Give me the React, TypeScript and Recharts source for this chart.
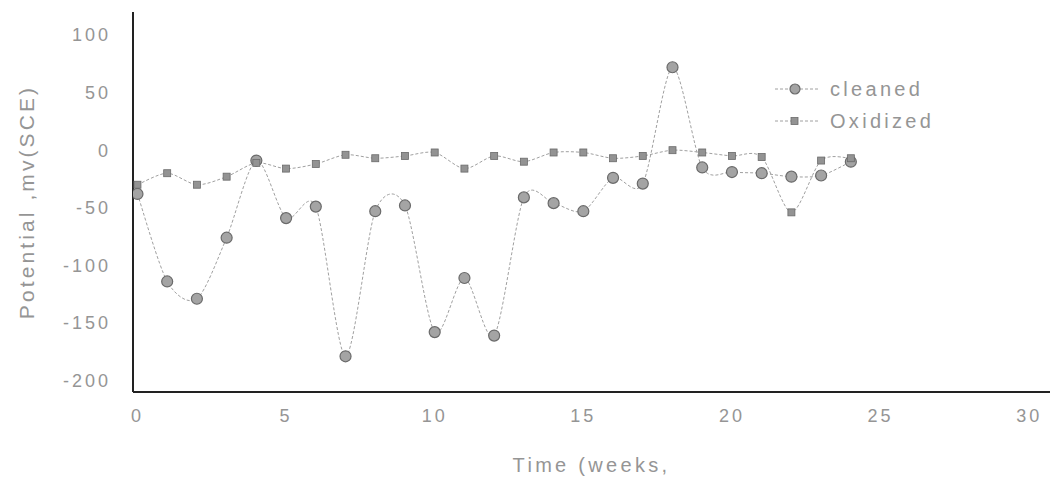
import React from 'react';
import { LineChart, Line, XAxis, YAxis, Legend } from 'recharts';

const weeks = [0, 1, 2, 3, 4, 5, 6, 7, 8, 9, 10, 11, 12, 13, 14, 15, 16, 17, 18, 19, 20, 21, 22, 23, 24];
const cleaned = [-38, -114, -129, -76, -9, -59, -49, -179, -53, -48, -158, -111, -161, -41, -46, -53, -24, -29, 72, -15, -19, -20, -23, -22, -10];
const oxidized = [-30, -20, -30, -23, -11, -16, -12, -4, -7, -5, -2, -16, -5, -10, -2, -2, -7, -5, 0, -2, -5, -6, -54, -9, -7];
const xTicks = [0, 5, 10, 15, 20, 25, 30];
const yTicks = [-200, -150, -100, -50, 0, 50, 100];
const seriesNames = ['cleaned', 'Oxidized'];

const data = weeks.map((w, i) => ({ week: w, cleaned: cleaned[i], oxidized: oxidized[i] }));

const FONT = '"Liberation Sans", Arial, sans-serif';
const TXT = '#959595';
const LINE = '#a0a0a0';

function catmullRom(context: any) {
  let pts: number[][] = [];
  return {
    areaStart() {},
    areaEnd() {},
    lineStart() { pts = []; },
    lineEnd() {
      const n = pts.length;
      if (n === 0) return;
      context.moveTo(pts[0][0], pts[0][1]);
      const t = 0.14;
      for (let i = 0; i < n - 1; i++) {
        const p0 = pts[i - 1] || pts[i];
        const p1 = pts[i];
        const p2 = pts[i + 1];
        const p3 = pts[i + 2] || p2;
        context.bezierCurveTo(
          p1[0] + (p2[0] - p0[0]) * t, p1[1] + (p2[1] - p0[1]) * t,
          p2[0] - (p3[0] - p1[0]) * t, p2[1] - (p3[1] - p1[1]) * t,
          p2[0], p2[1]
        );
      }
    },
    point(x: number, y: number) { pts.push([+x, +y]); },
  };
}

const CircleDot = (props: any) => {
  const { cx, cy, index } = props;
  if (cx == null || cy == null) return <g key={`c${index}`} />;
  return <circle key={`c${index}`} cx={cx} cy={cy} r={5.5} fill="#a4a4a4" stroke="#6a6a6a" strokeWidth={1.2} />;
};

const SquareDot = (props: any) => {
  const { cx, cy, index } = props;
  if (cx == null || cy == null) return <g key={`s${index}`} />;
  return <rect key={`s${index}`} x={cx - 3.5} y={cy - 3.5} width={7} height={7} fill="#939393" stroke="#6a6a6a" strokeWidth={0.8} />;
};

const LegendContent = () => (
  <div style={{ position: 'relative', width: 200, height: 70 }}>
    {seriesNames.map((name, i) => (
      <div key={name} style={{ position: 'absolute', left: 0, top: i * 32, height: 30, display: 'flex', alignItems: 'center' }}>
        <svg width={52} height={30} style={{ display: 'block' }}>
          <line x1={2} y1={15} x2={46} y2={15} stroke={LINE} strokeWidth={1} strokeDasharray="3 2" />
          {i === 0 ? (
            <circle cx={22} cy={15} r={5} fill="#a4a4a4" stroke="#6a6a6a" strokeWidth={1.2} />
          ) : (
            <rect x={18} y={11.5} width={7} height={7} fill="#939393" stroke="#6a6a6a" strokeWidth={0.8} />
          )}
        </svg>
        <span style={{ fontFamily: FONT, fontSize: 20, color: TXT, letterSpacing: 3.3, marginLeft: 5, lineHeight: '30px' }}>{name}</span>
      </div>
    ))}
  </div>
);

export default function App() {
  return (
    <div style={{ position: 'absolute', left: 0, top: 0, background: '#fff' }}>
      <LineChart width={1055} height={490} data={data} margin={{ top: 12, right: 5, left: 0, bottom: 0 }}>
        <XAxis
          type="number"
          dataKey="week"
          domain={[-0.15, 30.7]}
          ticks={xTicks}
          allowDataOverflow
          height={98}
          axisLine={{ stroke: '#222', strokeWidth: 2 }}
          tickLine={false}
          tickSize={0}
          tickMargin={17}
          tick={{ fill: TXT, fontSize: 18, fontFamily: FONT, style: { letterSpacing: 3 } } as any}
          label={{ value: 'Time (weeks,', position: 'insideBottom', offset: 18, fill: TXT, fontSize: 20, fontFamily: FONT, style: { letterSpacing: 3.3 } } as any}
        />
        <YAxis
          type="number"
          domain={[-210, 120]}
          ticks={yTicks}
          allowDataOverflow
          width={133}
          axisLine={{ stroke: '#222', strokeWidth: 2 }}
          tickLine={false}
          tickSize={0}
          tickMargin={22}
          tick={{ fill: TXT, fontSize: 18, fontFamily: FONT, style: { letterSpacing: 3 } } as any}
          label={{ value: 'Potential ,mv(SCE)', angle: -90, position: 'insideLeft', offset: 27, fill: TXT, fontSize: 21, fontFamily: FONT, style: { textAnchor: 'middle', letterSpacing: 3.1 } } as any}
        />
        <Legend
          layout="vertical"
          align="center"
          verticalAlign="middle"
          content={<LegendContent />}
          wrapperStyle={{ left: 773, top: 74, width: 200, height: 70 }}
        />
        <Line
          type={catmullRom as any}
          dataKey="cleaned"
          name="cleaned"
          stroke={LINE}
          strokeWidth={1}
          strokeDasharray="3 2"
          dot={CircleDot}
          activeDot={false}
          isAnimationActive={false}
        />
        <Line
          type={catmullRom as any}
          dataKey="oxidized"
          name="Oxidized"
          stroke={LINE}
          strokeWidth={1}
          strokeDasharray="3 2"
          dot={SquareDot}
          activeDot={false}
          isAnimationActive={false}
        />
      </LineChart>
    </div>
  );
}
